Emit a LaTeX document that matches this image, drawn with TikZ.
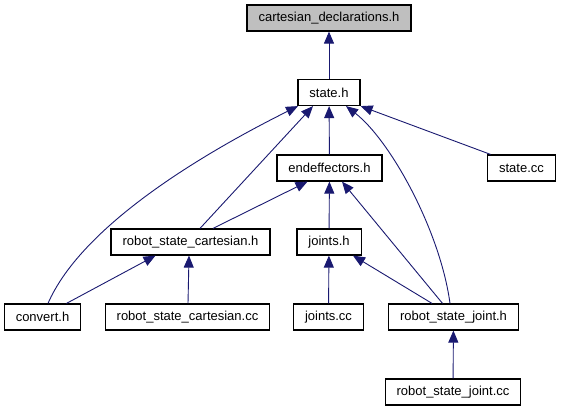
\documentclass[tikz,border=0pt]{standalone}
\usepackage{fontspec}
\setmainfont{Liberation Sans}
\usepackage{tikz}
\usetikzlibrary{arrows.meta, positioning, calc}
\definecolor{doxyAzul}{RGB}{25, 25, 112}
\definecolor{doxyGris}{RGB}{191, 191, 191}
\tikzset{
    fileNode/.style={rectangle, draw=black, line width=1.2pt, fill=white,
        minimum height=26pt, inner xsep=11.5pt, inner ysep=0pt,
        font=\fontsize{13}{15}\selectfont},
    rootNode/.style={fileNode, fill=doxyGris},
    incl/.style={draw=doxyAzul, line width=0.9pt,
        -{Triangle[length=12pt, width=10pt, fill=doxyAzul]}}
}

\begin{document}
\begin{tikzpicture}[x=1pt, y=-1pt]
            \useasboundingbox (0,0) rectangle (561,411);
            % nodes
            \node[rootNode] (cartDecl) at (329,18) {cartesian\_declarations.h};
            \node[fileNode] (state) at (329,92.5) {state.h};
            \node[fileNode] (endEff) at (329.5,168) {endeffectors.h};
            \node[fileNode] (stateCc) at (521.5,168) {state.cc};
            \node[fileNode] (robCart) at (190.5,242) {robot\_state\_cartesian.h};
            \node[fileNode] (joints) at (329,242) {joints.h};
            \node[fileNode] (convert) at (42.5,317) {convert.h};
            \node[fileNode] (robCartCc) at (187.5,317) {robot\_state\_cartesian.cc};
            \node[fileNode] (jointsCc) at (328.5,317) {joints.cc};
            \node[fileNode] (robJoint) at (453.5,317) {robot\_state\_joint.h};
            \node[fileNode] (robJointCc) at (453,392) {robot\_state\_joint.cc};
            % includes
            \draw[incl] (state) -- (cartDecl);
            \draw[incl] (endEff) -- (state);
            \draw[incl] ([xshift=-31pt]stateCc.north) -- (state.south east);
            \draw[incl] ([xshift=9.5pt]robCart.north) -- ([xshift=-16pt]state.south);
            \draw[incl] ([xshift=5.5pt]convert.north) .. controls (80,230) and (190,160) .. ([xshift=-31pt]state.south);
            \draw[incl] ([xshift=-3.5pt]robJoint.north) .. controls (440,230) and (390,140) .. ([xshift=17pt]state.south);
            \draw[incl] ([xshift=22.5pt]robCart.north) -- ([xshift=-22pt]endEff.south);
            \draw[incl] (joints) -- (endEff);
            \draw[incl] ([xshift=-11pt]robJoint.north) -- ([xshift=12.5pt]endEff.south);
            \draw[incl] ([xshift=24pt]convert.north) -- ([xshift=-35pt]robCart.south);
            \draw[incl] ([xshift=0.5pt]robCartCc.north) -- ([xshift=-1.5pt]robCart.south);
            \draw[incl] (jointsCc) -- (joints);
            \draw[incl] ([xshift=-21.5pt]robJoint.north) -- ([xshift=24pt]joints.south);
            \draw[incl] (robJointCc) -- (robJoint);
        \end{tikzpicture}
\end{document}
